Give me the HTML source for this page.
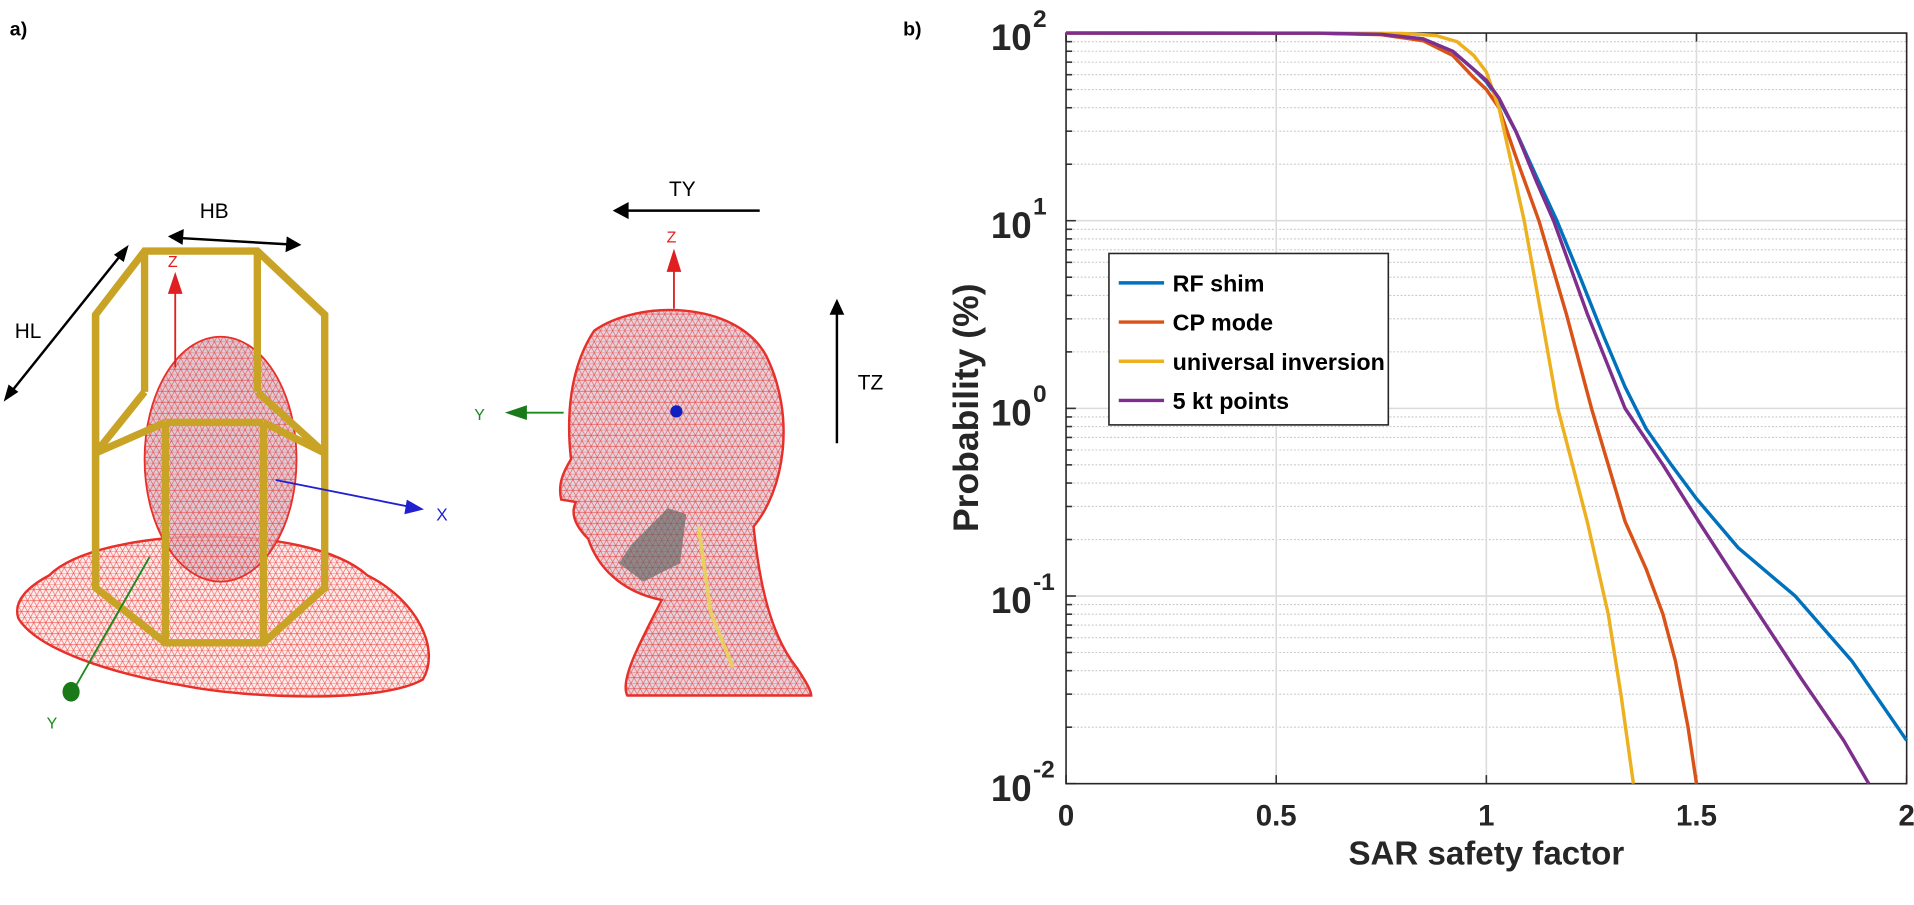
<!DOCTYPE html>
<html><head><meta charset="utf-8">
<style>
html,body{margin:0;padding:0;background:#fff;}
body{width:1914px;height:900px;overflow:hidden;font-family:"Liberation Sans",Arial,sans-serif;}
svg text{font-family:"Liberation Sans",Arial,sans-serif;}
</style></head>
<body>
<svg width="1914" height="900" viewBox="0 0 1562 735" preserveAspectRatio="none" xmlns="http://www.w3.org/2000/svg">
<defs>
<pattern id="mesh" width="10" height="9" patternUnits="userSpaceOnUse">
<rect width="10" height="9" fill="rgba(255,200,200,0.35)"/>
<path d="M0 0 L10 0 M0 4.5 L10 4.5 M0 0 L5 9 L10 0 M5 0 L0 9 M5 0 L10 9" stroke="#e8302a" stroke-width="0.5" fill="none" opacity="0.8"/>
</pattern>
</defs>
<text x="8" y="29" font-size="16" font-weight="bold">a)</text>
<text x="737" y="29" font-size="16" font-weight="bold">b)</text>

<g>
<path d="M40 470 C80 430 250 425 300 470 C340 490 360 530 345 555 C310 575 200 570 150 560 C90 550 30 530 15 505 C10 490 25 478 40 470Z" fill="url(#mesh)" stroke="#e8302a" stroke-width="2"/>
<ellipse cx="180" cy="375" rx="62" ry="100" fill="#b8b8d0" opacity="0.7"/>
<ellipse cx="180" cy="375" rx="62" ry="100" fill="url(#mesh)" stroke="#e8302a" stroke-width="1.5"/>
<g fill="none" stroke="#c9a326" stroke-width="6">
<path d="M78 257 L118 205 L210 205 L265 257 L265 480 L215 525 L135 525 L78 480Z"/>
<path d="M78 370 L118 320 M210 320 L265 370 M135 345 L135 525 M215 345 L215 525 M135 345 L215 345 M118 205 L118 320 M210 205 L210 320 M78 257 L78 480"/>
<path d="M78 370 L135 345 M265 370 L215 345"/>
</g>
<line x1="143" y1="300" x2="143" y2="232" stroke="#e02020" stroke-width="1.5"/>
<path d="M137 240 L143 222 L149 240Z" fill="#e02020"/>
<text x="137" y="218" font-size="13" fill="#e02020">Z</text>
<line x1="225" y1="392" x2="340" y2="415" stroke="#2020d0" stroke-width="1.5"/>
<path d="M332 408 L346 416 L330 420Z" fill="#2020d0"/>
<text x="356" y="425" font-size="14" fill="#2020d0">X</text>
<line x1="122" y1="455" x2="62" y2="560" stroke="#1a8a1a" stroke-width="1.5"/>
<ellipse cx="58" cy="565" rx="7" ry="8" fill="#1a7a1a"/>
<text x="38" y="595" font-size="13" fill="#1a8a1a">Y</text>
</g>
<g stroke="#000" stroke-width="2" fill="#000">
<line x1="140" y1="194" x2="243" y2="200"/>
<path d="M137 193 L150 187 L149 200Z" stroke="none"/>
<path d="M246 200 L233 206 L234 193Z" stroke="none"/>
</g>
<text x="163" y="178" font-size="17">HB</text>
<g stroke="#000" stroke-width="2" fill="#000">
<line x1="102" y1="204" x2="6" y2="324"/>
<path d="M105 200 L101 214 L93 208Z" stroke="none"/>
<path d="M3 328 L7 314 L15 320Z" stroke="none"/>
</g>
<text x="12" y="276" font-size="17">HL</text>

<g>
<path d="M485 270 C520 245 600 245 625 290 C650 340 640 400 615 430 C620 480 630 520 650 545 C660 560 662 565 662 568 L512 568 C505 555 525 520 540 490 C515 485 490 470 480 440 C470 430 465 420 470 410 L458 408 C455 395 460 385 466 375 C462 340 465 300 485 270Z" fill="#c0c0d8" opacity="0.6"/>
<path d="M485 270 C520 245 600 245 625 290 C650 340 640 400 615 430 C620 480 630 520 650 545 C660 560 662 565 662 568 L512 568 C505 555 525 520 540 490 C515 485 490 470 480 440 C470 430 465 420 470 410 L458 408 C455 395 460 385 466 375 C462 340 465 300 485 270Z" fill="url(#mesh)" stroke="#e8302a" stroke-width="2"/>
<path d="M515 445 L545 415 L560 420 L555 460 L525 475 L505 460Z" fill="#6a6a6a" opacity="0.7"/>
<path d="M570 430 L580 500 L598 545" stroke="#e8d060" stroke-width="3" fill="none"/>
<circle cx="552" cy="336" r="5" fill="#1020c0"/>
<line x1="550" y1="252" x2="550" y2="215" stroke="#e02020" stroke-width="1.5"/>
<path d="M544 222 L550 203 L556 222Z" fill="#e02020"/>
<text x="544" y="198" font-size="13" fill="#e02020">Z</text>
<line x1="460" y1="337" x2="425" y2="337" stroke="#1a8a1a" stroke-width="1.5"/>
<path d="M430 331 L412 337 L430 343Z" fill="#1a7a1a"/>
<text x="387" y="343" font-size="13" fill="#1a8a1a">Y</text>
</g>
<g stroke="#000" stroke-width="2" fill="#000">
<line x1="620" y1="172" x2="508" y2="172"/>
<path d="M500 172 L513 165 L513 179Z" stroke="none"/>
</g>
<text x="546" y="160" font-size="17">TY</text>
<g stroke="#000" stroke-width="2" fill="#000">
<line x1="683" y1="362" x2="683" y2="252"/>
<path d="M683 244 L677 257 L689 257Z" stroke="none"/>
</g>
<text x="700" y="318" font-size="17">TZ</text>

<g id="chart"></g>
</svg>
<script>
const xTicks=[0,0.5,1,1.5,2];
const xTickLabels=["0","0.5","1","1.5","2"];
const yDecades=[2,1,0,-1,-2];
const yTickExp=["2","1","0","-1","-2"];
const seriesNames=["RF shim","CP mode","universal inversion","5 kt points"];
const seriesColors=["#0072bd","#d95319","#edb120","#7e2f8e"];
const rfX=[0,0.6,0.75,0.85,0.92,0.97,1.0,1.03,1.07,1.12,1.168,1.22,1.28,1.33,1.38,1.44,1.5,1.6,1.735,1.87,2];
const rfY=[100,99.8,98.5,93,80,64,55,44,30,17,10,5.2,2.4,1.3,0.78,0.5,0.33,0.18,0.1,0.045,0.017];
const cpX=[0,0.6,0.75,0.85,0.92,0.97,1.0,1.03,1.07,1.125,1.19,1.25,1.33,1.38,1.42,1.45,1.48,1.5];
const cpY=[100,99.8,98,91,76,58,50,40,22,10,3.2,1,0.25,0.14,0.08,0.045,0.02,0.01];
const uiX=[0,0.6,0.8,0.88,0.93,0.97,1.0,1.03,1.06,1.09,1.13,1.17,1.24,1.29,1.32,1.35];
const uiY=[100,100,99.5,97,90,76,62,40,20,10,3.2,1,0.25,0.08,0.03,0.01];
const ktX=[0,0.6,0.75,0.85,0.92,0.97,1.0,1.03,1.07,1.12,1.16,1.24,1.33,1.42,1.51,1.62,1.75,1.85,1.91];
const ktY=[100,99.8,98.5,93,80,64,56,45,30,16,10,3.2,1,0.5,0.24,0.1,0.036,0.017,0.01];

const NS="http://www.w3.org/2000/svg";
const g=document.getElementById('chart');
const L=870,R=1556,T=27,B=640;
const sx=v=>L+(v-0)/(2-0)*(R-L);
const sy=p=>T+(2-Math.log10(p))/4*(B-T);
function mk(tag,attrs,parent){const e=document.createElementNS(NS,tag);for(const k in attrs)e.setAttribute(k,attrs[k]);(parent||g).appendChild(e);return e;}

for(let d=-2;d<2;d++){for(let m=2;m<=9;m++){const y=sy(m*Math.pow(10,d));
const ln=mk('line',{x1:L,x2:R,y1:y,y2:y,stroke:'#c8c8c8','stroke-width':0.9,'stroke-dasharray':'1.5,1.5'});


const tk=mk('line',{x1:L,x2:L+5,y1:y,y2:y,stroke:'#333','stroke-width':1.3});

}}
yDecades.forEach((d,i)=>{const y=sy(Math.pow(10,d));
const ln=mk('line',{x1:L,x2:R,y1:y,y2:y,stroke:'#dcdcdc','stroke-width':1.3});


const t=mk('text',{x:842,y:y+14,'font-size':30,'font-weight':'bold','text-anchor':'end',fill:'#262626'});


t.textContent='10';
const s=mk('text',{x:843,y:y-5,'font-size':20,'font-weight':'bold','text-anchor':'start',fill:'#262626'});


s.textContent=yTickExp[i];
const tk=mk('line',{x1:L,x2:L+8,y1:y,y2:y,stroke:'#333','stroke-width':1.3});

});
xTicks.forEach((v,i)=>{const x=sx(v);
if(i>0&&i<xTicks.length-1){const ln=mk('line',{x1:x,x2:x,y1:T,y2:B,stroke:'#dcdcdc','stroke-width':1.3});

}
const tk=mk('line',{x1:x,x2:x,y1:B,y2:B-7,stroke:'#333','stroke-width':1.3});


const tk2=mk('line',{x1:x,x2:x,y1:T,y2:T+7,stroke:'#333','stroke-width':1.3});


const t=mk('text',{x:x,y:674,'font-size':24,'font-weight':'bold','text-anchor':'middle',fill:'#262626'});


t.textContent=xTickLabels[i];});

const box=mk('rect',{x:L,y:T,width:R-L,height:B-T,fill:'none',stroke:'#262626','stroke-width':1.3});



const data=[[rfX,rfY],[cpX,cpY],[uiX,uiY],[ktX,ktY]];
const names=['series-rf-shim','series-cp-mode','series-universal-inversion','series-5-kt-points'];
data.forEach(([xs,ys],k)=>{let d='';xs.forEach((x,i)=>{d+=(i?'L':'M')+sx(x).toFixed(1)+' '+sy(ys[i]).toFixed(1);});
const p=mk('path',{d:d,fill:'none',stroke:seriesColors[k],'stroke-width':2.8,'stroke-linejoin':'round'});

});

const lg=mk('g',{});


mk('rect',{x:905,y:207,width:228,height:140,fill:'#fff',stroke:'#262626','stroke-width':1.3},lg);
seriesNames.forEach((n,i)=>{const y=231+i*32;
const l=mk('line',{x1:913,x2:950,y1:y,y2:y,stroke:seriesColors[i],'stroke-width':2.8},lg);


const t=mk('text',{x:957,y:y+7,'font-size':19,'font-weight':'bold',fill:'#000'},lg);


t.textContent=n;});

const xl=mk('text',{x:1213,y:706,'font-size':27,'font-weight':'bold','text-anchor':'middle',fill:'#262626'});


xl.textContent='SAR safety factor';
const yl=mk('text',{x:0,y:0,'font-size':29,'font-weight':'bold','text-anchor':'middle',fill:'#262626',transform:'translate(798,333) rotate(-90)'});


yl.textContent='Probability (%)';
</script>
</body></html>
